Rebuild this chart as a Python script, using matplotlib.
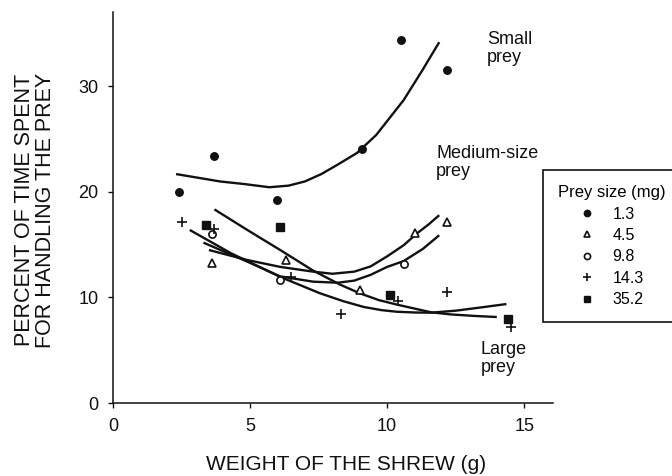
import matplotlib
matplotlib.use('Agg')
import matplotlib.pyplot as plt

plt.rcParams['font.family'] = ['Liberation Sans', 'DejaVu Sans']

# prey size groups (mg)
sizes = ['1.3', '4.5', '9.8', '14.3', '35.2']

# observed points: shrew weight (g) vs percent of time handling prey
x13 = [2.4, 3.7, 6.0, 9.1, 10.5, 12.2]
y13 = [20.0, 23.4, 19.2, 24.1, 34.4, 31.6]
x45 = [3.6, 6.3, 9.0, 11.0, 12.2]
y45 = [13.3, 13.6, 10.7, 16.1, 17.2]
x98 = [3.6, 6.1, 10.6]
y98 = [16.0, 11.7, 13.2]
x143 = [2.5, 3.7, 6.5, 8.3, 10.4, 12.2, 14.5]
y143 = [17.2, 16.5, 11.9, 8.4, 9.7, 10.5, 7.2]
x352 = [3.4, 6.1, 10.1, 14.4]
y352 = [16.9, 16.7, 10.2, 8.0]

# fitted curves
small_x = [2.3, 3.9, 4.8, 5.7, 6.4, 7.0, 7.6, 8.2, 8.9, 9.6, 10.6, 11.3, 11.9]
small_y = [21.7, 21.0, 20.75, 20.45, 20.6, 21.0, 21.7, 22.6, 23.7, 25.4, 28.7, 31.6, 34.2]
med1_x = [3.5, 4.9, 6.1, 7.3, 8.0, 8.8, 9.4, 10.0, 10.6, 11.1, 11.5, 11.9]
med1_y = [14.5, 13.55, 12.9, 12.45, 12.25, 12.45, 12.95, 13.9, 14.95, 16.1, 16.9, 17.8]
med2_x = [3.3, 4.9, 6.1, 7.3, 8.2, 8.8, 9.4, 10.0, 10.6, 11.3, 11.9]
med2_y = [15.2, 13.4, 12.0, 11.5, 11.4, 11.6, 12.15, 12.9, 13.45, 14.6, 15.9]
large1_x = [3.7, 4.9, 6.1, 7.3, 8.3, 9.0, 9.7, 10.4, 11.0, 11.6, 12.3, 13.2, 14.0]
large1_y = [18.35, 16.4, 14.5, 12.55, 11.2, 10.4, 9.75, 9.3, 8.95, 8.6, 8.4, 8.25, 8.15]
large2_x = [2.8, 4.3, 6.1, 7.55, 8.4, 9.15, 9.8, 10.35, 11.0, 11.6, 12.5, 13.4, 14.35]
large2_y = [16.4, 14.2, 11.95, 10.4, 9.65, 9.1, 8.8, 8.65, 8.58, 8.56, 8.75, 9.05, 9.38]

xticks = [0, 5, 10, 15]
yticks = [0, 10, 20, 30]

fig = plt.figure(figsize=(6.72, 4.76), dpi=100)
ax = fig.add_axes([113/672, 73/476, 440/672, 391/476])

ink = '#111111'
for cx, cy in [(small_x, small_y), (med1_x, med1_y), (med2_x, med2_y),
               (large1_x, large1_y), (large2_x, large2_y)]:
    ax.plot(cx, cy, color=ink, lw=1.7, solid_capstyle='butt',
            solid_joinstyle='round')

styles = [
    dict(marker='o', ms=5.4, mfc=ink, mec=ink),
    dict(marker='^', ms=5.6, mfc='white', mec=ink, mew=1.2),
    dict(marker='o', ms=5.2, mfc='white', mec=ink, mew=1.2),
    dict(marker='+', ms=7, mec=ink, mew=1.2),
    dict(marker='s', ms=5.2, mfc=ink, mec=ink),
]
data = [(x13, y13), (x45, y45), (x98, y98), (x143, y143), (x352, y352)]
handles = []
for (px, py), st, lab in zip(data, styles, sizes):
    h, = ax.plot(px, py, ls='none', label=lab, **st)
    handles.append(h)

ax.set_xlim(0, 16.05)
ax.set_ylim(0, 37.06)
ax.set_xticks(xticks)
ax.set_yticks(yticks)
for s in ['top', 'right']:
    ax.spines[s].set_visible(False)
for s in ['left', 'bottom']:
    ax.spines[s].set_linewidth(1.1)
    ax.spines[s].set_color(ink)
ax.tick_params(direction='out', length=3.5, width=1, labelsize=13,
               pad=7, colors=ink)

fig.text(35/672, 1 - 210/476, 'PERCENT OF TIME SPENT\nFOR HANDLING THE PREY',
         rotation=90, ha='center', va='center', multialignment='center',
         fontsize=15.5, linespacing=0.95, color=ink)
fig.text(346/672, 1 - 464/476, 'WEIGHT OF THE SHREW (g)', ha='center',
         va='center', fontsize=15, color=ink)

fig.text(487/672, 1 - 31/476, 'Small\nprey', ha='left', va='top',
         fontsize=13, linespacing=1.1, color=ink)
fig.text(436/672, 1 - 145/476, 'Medium-size\nprey', ha='left', va='top',
         fontsize=13, linespacing=1.1, color=ink)
fig.text(481/672, 1 - 341/476, 'Large\nprey', ha='left', va='top',
         fontsize=13, linespacing=1.1, color=ink)

leg = fig.legend(handles=handles, title='Prey size (mg)', loc='upper left',
                 bbox_to_anchor=(543/672, 1 - 170/476), borderaxespad=0,
                 fontsize=11.5, title_fontsize=12, frameon=True,
                 fancybox=False, edgecolor=ink, framealpha=1,
                 markerscale=0.85, handlelength=3.6, handletextpad=-0.2,
                 labelspacing=0.4, borderpad=0.95, alignment='left')
leg.get_frame().set_linewidth(1.2)

fig.savefig('out.png', dpi=100)
